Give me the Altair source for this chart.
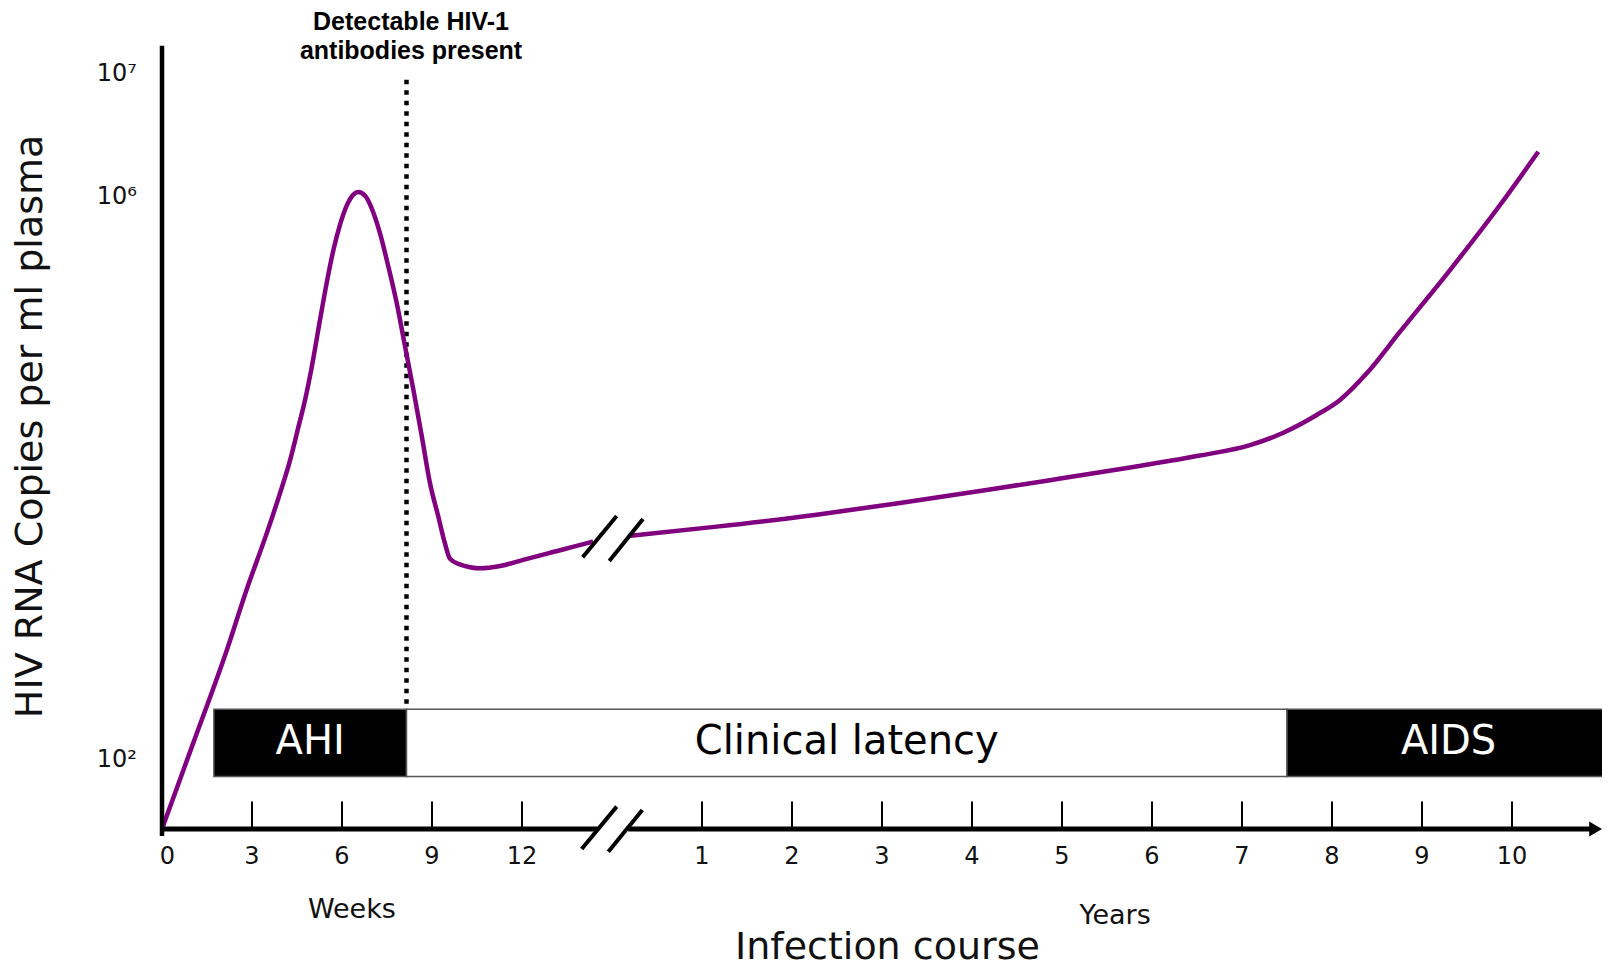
import altair as alt
import pandas as pd

# ---------------- data ----------------
# Acute phase: time in weeks, viral load as log10(HIV RNA copies / ml)
acute_weeks = [0, 1.04, 2.16, 2.82, 3.49, 3.88, 4.27, 4.54, 4.77, 4.99, 5.27, 5.49, 5.71, 5.93,
               6.16, 6.38, 6.54, 6.77, 6.99, 7.27, 7.54, 7.82, 8.1, 8.38, 8.66, 8.93, 9.21, 9.43,
               9.6, 9.93, 10.27, 10.6, 11.27, 12.04, 12.93, 14.27, 14.37]
acute_log = [1.5, 2.12, 2.78, 3.21, 3.61, 3.86, 4.13, 4.36, 4.56, 4.79, 5.13, 5.39, 5.62, 5.80,
             5.94, 6.02, 6.04, 6.01, 5.92, 5.74, 5.51, 5.25, 4.94, 4.63, 4.30, 3.97, 3.73, 3.54,
             3.43, 3.39, 3.37, 3.362, 3.378, 3.422, 3.472, 3.546, 3.552]
# Chronic phase: time in years
chronic_years = [0.178, 1.163, 2.274, 3.2, 4.126, 4.867, 5.792, 6.533, 7.089, 7.459, 7.83, 8.089,
                 8.386, 8.756, 9.311, 9.867, 10.292]
chronic_log = [3.591, 3.658, 3.743, 3.826, 3.915, 3.988, 4.082, 4.163, 4.237, 4.325, 4.451, 4.558,
               4.747, 5.043, 5.481, 5.943, 6.368]

week_ticks = [0, 3, 6, 9, 12]
year_ticks = [1, 2, 3, 4, 5, 6, 7, 8, 9, 10]
y_tick_values = [7, 6, 2]
y_tick_labels = ["10\u2077", "10\u2076", "10\u00b2"]

phase_names = ["AHI", "Clinical latency", "AIDS"]
phase_start = [(1.73, "weeks"), (8.15, "weeks"), (7.5, "years")]
phase_end = [(8.15, "weeks"), (7.5, "years"), (11.09, "years")]
phase_fill = ["black", "white", "black"]
phase_text_color = ["white", "black", "white"]

antibody_week = 8.15
title_lines = ["Detectable HIV-1", "antibodies present"]

# ---------------- layout helpers ----------------
WEEKS_PER_UNIT = 3      # 3 weeks per axis unit
YEAR_OFFSET = 5         # year n sits at unit n + 5 (after the axis break)
AXIS_LEVEL = 1.5        # level of the x axis on the log scale


def to_pos(value, unit):
    return value / WEEKS_PER_UNIT if unit == "weeks" else value + YEAR_OFFSET


W, H = 1594, 960
xs = alt.Scale(domain=[-154 / 90, (W - 154) / 90], nice=False, zero=False)
ys = alt.Scale(domain=[1.5, 2, 6, 7], range=[821, 752, 189, 66], nice=False, zero=False)


def X(f="p"):
    return alt.X(f"{f}:Q", scale=xs, axis=None)


def Y(f="v"):
    return alt.Y(f"{f}:Q", scale=ys, axis=None)


# ---------------- tables ----------------
curve = pd.concat([
    pd.DataFrame({"p": [to_pos(w, "weeks") for w in acute_weeks], "v": acute_log, "seg": "acute"}),
    pd.DataFrame({"p": [to_pos(y, "years") for y in chronic_years], "v": chronic_log, "seg": "chronic"}),
])

boxes = pd.DataFrame({
    "name": phase_names,
    "p": [to_pos(*s) for s in phase_start],
    "p2": [to_pos(*e) for e in phase_end],
    "v": [2.36] * 3,
    "v2": [1.88] * 3,
    "fill": phase_fill,
    "tcolor": phase_text_color,
})
boxes["pc"] = (boxes["p"] + boxes["p2"]) / 2
boxes["vc"] = 2.125

ticks = pd.DataFrame({
    "p": [to_pos(w, "weeks") for w in week_ticks if w > 0] + [to_pos(y, "years") for y in year_ticks],
    "v": AXIS_LEVEL, "v2": 1.70,
})
tick_labels = pd.DataFrame({
    "p": [to_pos(w, "weeks") + (0.06 if w == 0 else 0) for w in week_ticks]
         + [to_pos(y, "years") for y in year_ticks],
    "v": 1.30,
    "t": [str(w) for w in week_ticks] + [str(y) for y in year_ticks],
})

axes_lines = pd.DataFrame({
    "p": [0, -0.02, 5.18],
    "p2": [0, 4.84, 15.87],
    "v": [1.45, AXIS_LEVEL, AXIS_LEVEL],
    "v2": [7.23, AXIS_LEVEL, AXIS_LEVEL],
    "w": [4.5, 5, 5],
})

breaks = pd.DataFrame({
    "p": [4.663, 4.959, 4.674, 4.970],
    "v": [1.355, 1.335, 3.44, 3.414],
    "p2": [5.052, 5.337, 5.052, 5.344],
    "v2": [1.662, 1.638, 3.734, 3.712],
})

arrow = pd.DataFrame({"p": [15.93], "v": [AXIS_LEVEL]})
dotted = pd.DataFrame({"p": [to_pos(antibody_week, "weeks")], "v": [2.40], "v2": [6.98]})
title_df = pd.DataFrame({"p": [to_pos(8.3, "weeks")] * 2, "v": [7.42, 7.185], "t": title_lines})
ylab = pd.DataFrame({"p": [-0.278] * 3, "v": y_tick_values, "t": y_tick_labels})
unit_labels = pd.DataFrame({"p": [to_pos(6.33, "weeks"), to_pos(5.59, "years")], "v": [0.91, 0.87],
                            "t": ["Weeks", "Years"]})
xtitle = pd.DataFrame({"p": [to_pos(3.06, "years")], "v": [0.56], "t": ["Infection course"]})
ytitle = pd.DataFrame({"p": [-1.455], "v": [4.37], "t": ["HIV RNA Copies per ml plasma"]})

FONT = "DejaVu Sans"

# ---------------- layers ----------------
box_layer = alt.Chart(boxes).mark_rect(stroke="#555555", strokeWidth=1.5).encode(
    x=X(), x2="p2:Q", y=Y(), y2="v2:Q", fill=alt.Fill("fill:N", scale=None))
box_text = alt.Chart(boxes).mark_text(font=FONT, fontSize=40, baseline="middle").encode(
    x=X("pc"), y=Y("vc"), text="name:N", color=alt.Color("tcolor:N", scale=None))

axis_layer = alt.Chart(axes_lines).mark_rule(color="black").encode(
    x=X(), x2="p2:Q", y=Y(), y2="v2:Q", strokeWidth=alt.StrokeWidth("w:Q", scale=None))
arrow_layer = alt.Chart(arrow).mark_point(shape="triangle-right", filled=True, size=225,
                                          color="black", opacity=1).encode(x=X(), y=Y())
tick_layer = alt.Chart(ticks).mark_rule(color="black", strokeWidth=2).encode(x=X(), y=Y(), y2="v2:Q")
tick_text = alt.Chart(tick_labels).mark_text(font=FONT, fontSize=24, baseline="middle",
                                             color="#111111").encode(x=X(), y=Y(), text="t:N")
break_layer = alt.Chart(breaks).mark_rule(color="black", strokeWidth=4).encode(
    x=X(), y=Y(), x2="p2:Q", y2="v2:Q")

dotted_layer = alt.Chart(dotted).mark_rule(color="black", strokeWidth=4.5, strokeDash=[4.5, 6]).encode(
    x=X(), y=Y(), y2="v2:Q")

curve_layer = alt.Chart(curve).mark_line(color="#800080", strokeWidth=4.5, interpolate="monotone").encode(
    x=X(), y=Y(), detail="seg:N", order="p:Q")

title_layer = alt.Chart(title_df).mark_text(font="Liberation Sans", fontWeight="bold", fontSize=25,
                                            baseline="middle", color="black").encode(x=X(), y=Y(), text="t:N")
ylab_layer = alt.Chart(ylab).mark_text(font=FONT, fontSize=24, align="right", baseline="middle",
                                       color="#111111").encode(x=X(), y=Y(), text="t:N")
unit_layer = alt.Chart(unit_labels).mark_text(font=FONT, fontSize=27, baseline="middle",
                                              color="#111111").encode(x=X(), y=Y(), text="t:N")
xtitle_layer = alt.Chart(xtitle).mark_text(font=FONT, fontSize=38, baseline="alphabetic",
                                           color="#111111").encode(x=X(), y=Y(), text="t:N")
ytitle_layer = alt.Chart(ytitle).mark_text(font=FONT, fontSize=38, baseline="middle", angle=270,
                                           color="#111111").encode(x=X(), y=Y(), text="t:N")

chart = alt.layer(
    box_layer, box_text, dotted_layer, curve_layer, break_layer, axis_layer, arrow_layer,
    tick_layer, tick_text, title_layer, ylab_layer, unit_layer, xtitle_layer, ytitle_layer,
).properties(
    width=W, height=H, autosize=alt.AutoSizeParams(type="none"), padding=0, background="white"
).configure_view(stroke=None)

chart.save("out.html", embed_options={"renderer": "svg", "actions": False})
